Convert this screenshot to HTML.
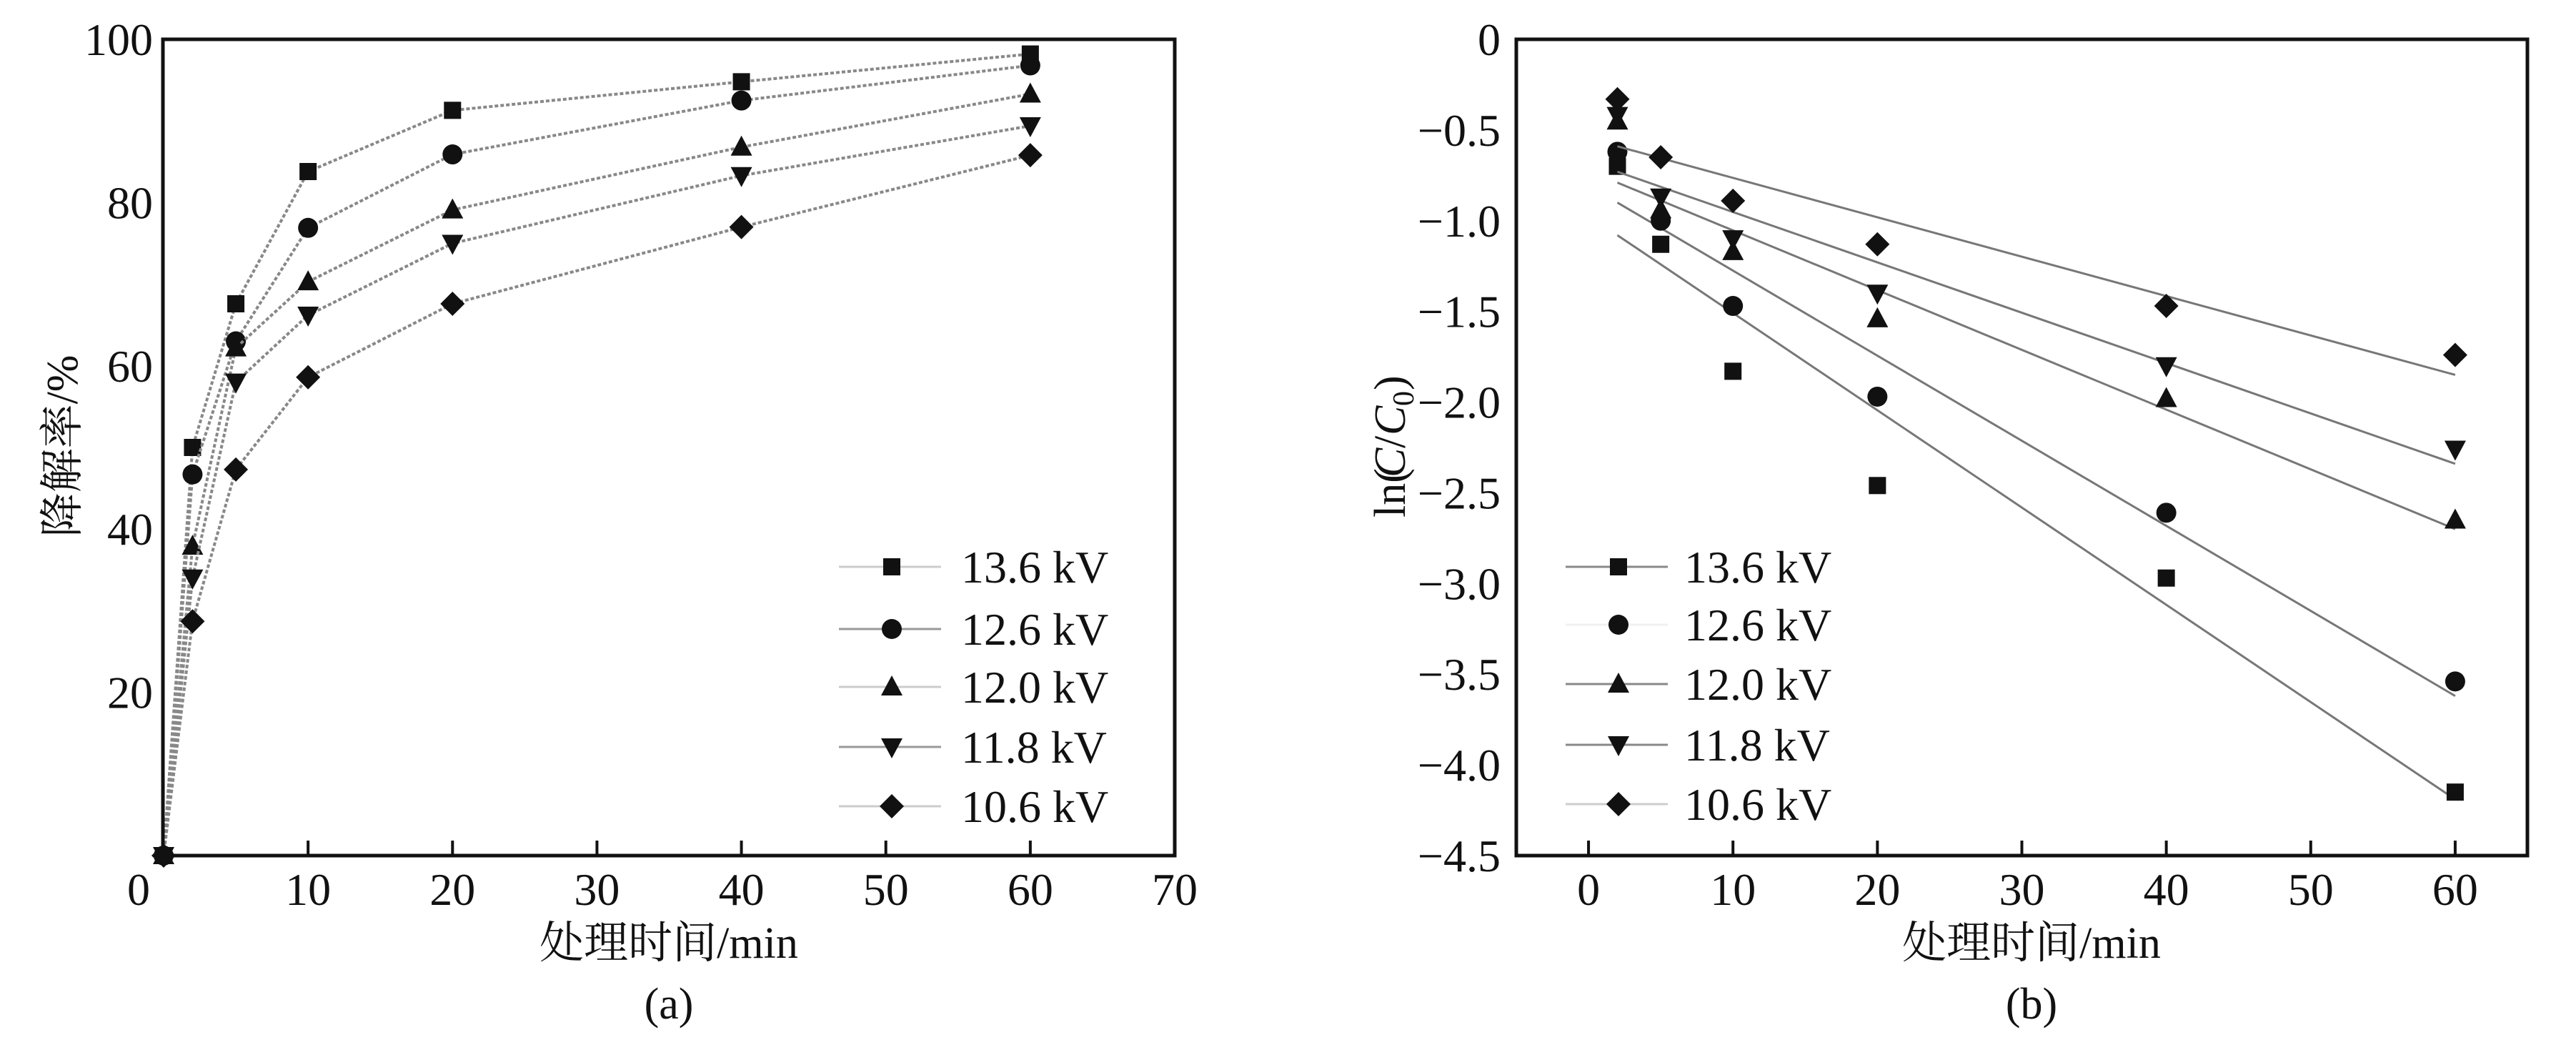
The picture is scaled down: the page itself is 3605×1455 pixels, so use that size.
<!DOCTYPE html>
<html><head><meta charset="utf-8"><style>
html,body{margin:0;padding:0;background:#fff;}
svg{display:block;}
text{font-family:"Liberation Serif","Times New Roman","Noto Serif CJK SC",serif;fill:#111;}
.cjk{font-family:"Liberation Serif","Noto Serif CJK SC","Noto Sans CJK SC",serif;}
</style></head><body>
<svg id="c" width="3605" height="1455" viewBox="0 0 3605 1455" xmlns="http://www.w3.org/2000/svg"></svg>
<script>
const seriesNames = ["13.6 kV","12.6 kV","12.0 kV","11.8 kV","10.6 kV"];
const markers = ["square","circle","triangle","tridown","diamond"];
const timesA = [0,2,5,10,20,40,60];
const rate136 = [0,50.0,67.6,83.8,91.3,94.8,98.2];
const rate126 = [0,46.7,63.0,76.9,85.9,92.5,96.8];
const rate120 = [0,37.9,62.2,70.3,79.1,86.8,93.3];
const rate118 = [0,34.0,58.0,66.2,75.0,83.3,89.4];
const rate106 = [0,28.7,47.3,58.6,67.6,77.0,85.8];
const timesB = [2,5,10,20,40,60];
const ln136 = [-0.70,-1.13,-1.83,-2.46,-2.97,-4.15];
const ln126 = [-0.62,-1.00,-1.47,-1.97,-2.61,-3.54];
const ln120 = [-0.45,-0.94,-1.17,-1.54,-1.98,-2.65];
const ln118 = [-0.42,-0.87,-1.10,-1.40,-1.80,-2.26];
const ln106 = [-0.33,-0.65,-0.89,-1.13,-1.47,-1.74];
const fitStart = [-1.08,-0.90,-0.79,-0.73,-0.59];
const fitEnd = [-4.19,-3.62,-2.70,-2.34,-1.85];
const fitT = [2,60];
const xTicksA = [0,10,20,30,40,50,60,70];
const yTicksA = [20,40,60,80,100];
const xTicksB = [0,10,20,30,40,50,60];
const yTicksB = [0,-0.5,-1.0,-1.5,-2.0,-2.5,-3.0,-3.5,-4.0,-4.5];

const NS="http://www.w3.org/2000/svg";
const svg=document.getElementById('c');
function el(tag,attrs,parent){const e=document.createElementNS(NS,tag);for(const k in attrs)e.setAttribute(k,attrs[k]);(parent||svg).appendChild(e);return e;}
function txt(s,x,y,size,anchor,parent){const t=el('text',{x:x,y:y,'font-size':size,'text-anchor':anchor||'middle'},parent);t.textContent=s;return t;}
function marker(type,x,y,parent){
  let m;
  if(type==="square") m=el('rect',{x:x-12,y:y-12,width:24,height:24,fill:'#111'},parent);
  else if(type==="circle") m=el('circle',{cx:x,cy:y,r:14,fill:'#111'},parent);
  else if(type==="triangle") m=el('polygon',{points:`${x},${y-16} ${x-15},${y+12} ${x+15},${y+12}`,fill:'#111'},parent);
  else if(type==="tridown") m=el('polygon',{points:`${x},${y+16} ${x-15},${y-12} ${x+15},${y-12}`,fill:'#111'},parent);
  else m=el('polygon',{points:`${x},${y-17} ${x+17},${y} ${x},${y+17} ${x-17},${y}`,fill:'#111'},parent);
  return m;
}
const BOT=1197;

// ---- Plot A
const ax=t=>229+(t/70)*(1644-229);
const ay=v=>BOT-(v/100)*(BOT-55);
const gA=el('g',{});


const ratesA=[rate136,rate126,rate120,rate118,rate106];
ratesA.forEach((arr,i)=>{
  const g=el('g',{},gA);
  
  
  const pts=timesA.map((t,j)=>ax(t)+','+ay(arr[j])).join(' ');
  el('polyline',{points:pts,fill:'none',stroke:'#888','stroke-width':4,'stroke-dasharray':'5,3'},g);
  timesA.forEach((t,j)=>{const m=marker(markers[i],ax(t),ay(arr[j]),g);
    
    });
});
el('rect',{x:228,y:55,width:1416,height:BOT-55,fill:'none',stroke:'#111','stroke-width':5},gA);
xTicksA.forEach(t=>{
  if(t>0&&t<70) el('line',{x1:ax(t),y1:BOT,x2:ax(t),y2:BOT-21,stroke:'#111','stroke-width':4},gA);
  const l=txt(String(t),t===0?194:ax(t),BOT+69,64,'middle',gA);
  
  
});
yTicksA.forEach(v=>{const l=txt(String(v),214,ay(v)+22,64,'end',gA);
  
  });
let t1=txt('处理时间/min',936,1340,62,'middle',gA);
t1.setAttribute('class','cjk');


let t2=txt('降解率/%',0,0,62,'middle',gA);
t2.setAttribute('class','cjk');
t2.setAttribute('transform','translate(108,624) rotate(-90)');


let t3=txt('(a)',936,1425,62,'middle',gA);


const legYA=[793,880,961,1045,1128];
seriesNames.forEach((n,i)=>{
  const g=el('g',{},gA);
  
  
  el('line',{x1:1174,y1:legYA[i],x2:1317,y2:legYA[i],stroke:i===1||i===3?'#999':'#ccc','stroke-width':3},g);
  marker(markers[i],1248,legYA[i],g);
  txt(n,1345,legYA[i]+22,64,'start',g);
});

// ---- Plot B
const bx=t=>2122+((t+5)/70)*(3537-2122);
const by=v=>55+(-v/4.5)*(BOT-55);
const gB=el('g',{});


const lnB=[ln136,ln126,ln120,ln118,ln106];
lnB.forEach((arr,i)=>{
  const g=el('g',{},gB);
  
  
  const f=el('line',{x1:bx(fitT[0]),y1:by(fitStart[i]),x2:bx(fitT[1]),y2:by(fitEnd[i]),stroke:'#777','stroke-width':3},g);
  
  
  timesB.forEach((t,j)=>{const m=marker(markers[i],bx(t),by(arr[j]),g);
    
    });
});
el('rect',{x:2122,y:55,width:1415,height:BOT-55,fill:'none',stroke:'#111','stroke-width':5},gB);
xTicksB.forEach(t=>{
  el('line',{x1:bx(t),y1:BOT,x2:bx(t),y2:BOT-21,stroke:'#111','stroke-width':4},gB);
  const l=txt(String(t),bx(t),BOT+69,64,'middle',gB);
  
  
});
yTicksB.forEach(v=>{const s=v===0?'0':'−'+Math.abs(v).toFixed(1);
  const l=txt(s,2100,by(v)+22,64,'end',gB);
  
  });
let u1=txt('处理时间/min',2843,1340,62,'middle',gB);
u1.setAttribute('class','cjk');


const yb=el('g',{transform:'translate(1966,624) rotate(-90)'},gB);


let p1=el('text',{x:-100,y:0,'font-size':62,'text-anchor':'start'},yb); p1.textContent='ln(';
let p2=el('text',{x:-44,y:0,'font-size':62,'text-anchor':'start','font-style':'italic'},yb); p2.textContent='C';
let p3=el('text',{x:-3,y:0,'font-size':62,'text-anchor':'start'},yb); p3.textContent='/';
let p4=el('text',{x:15,y:0,'font-size':62,'text-anchor':'start','font-style':'italic'},yb); p4.textContent='C';
let p5=el('text',{x:56,y:12,'font-size':42,'text-anchor':'start'},yb); p5.textContent='0';
let p6=el('text',{x:78,y:0,'font-size':62,'text-anchor':'start'},yb); p6.textContent=')';
let u3=txt('(b)',2843,1425,62,'middle',gB);


const legYB=[793,874,957,1042,1125];
seriesNames.forEach((n,i)=>{
  const g=el('g',{},gB);
  
  
  el('line',{x1:2191,y1:legYB[i],x2:2334,y2:legYB[i],stroke:i===1?'#f0f0f0':(i===4?'#ccc':'#888'),'stroke-width':3},g);
  marker(markers[i],2265,legYB[i],g);
  txt(n,2357,legYB[i]+22,64,'start',g);
});
</script>
</body></html>
